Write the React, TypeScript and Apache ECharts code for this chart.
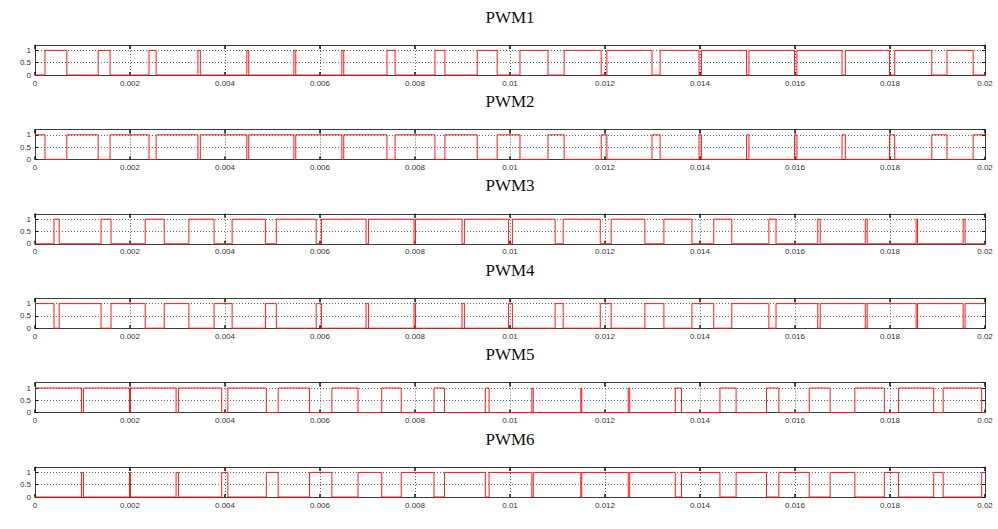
import React, { useEffect, useRef } from "react";
import * as echarts from "echarts";

// Titles of the six subplots
const titles = ["PWM1", "PWM2", "PWM3", "PWM4", "PWM5", "PWM6"];

// Switching instants (ms), with each signal's level at t = 0
const pwm1Start = 0;
const pwm1Toggles = [0.21, 0.67, 1.33, 1.58, 2.40, 2.55, 3.43, 3.48, 4.46, 4.50, 5.45, 5.49, 6.46, 6.50, 7.41, 7.58, 8.42, 8.63, 9.31, 9.73, 10.21, 10.80, 11.14, 11.92, 12.04, 12.99, 13.16, 13.98, 14.03, 14.98, 15.03, 15.99, 16.04, 16.99, 17.06, 17.99, 18.10, 18.88, 19.20, 19.75];
const pwm2Start = 1;
const pwm2Toggles = [0.21, 0.67, 1.33, 1.58, 2.40, 2.55, 3.43, 3.48, 4.46, 4.50, 5.45, 5.49, 6.46, 6.50, 7.41, 7.58, 8.42, 8.63, 9.31, 9.73, 10.21, 10.80, 11.14, 11.92, 12.04, 12.99, 13.16, 13.98, 14.03, 14.98, 15.03, 15.99, 16.04, 16.99, 17.06, 17.99, 18.10, 18.88, 19.20, 19.75];
const pwm3Start = 0;
const pwm3Toggles = [0.40, 0.51, 1.39, 1.60, 2.32, 2.72, 3.24, 3.77, 4.15, 4.85, 5.08, 5.92, 6.03, 6.97, 7.02, 7.98, 8.01, 8.99, 9.04, 9.97, 10.05, 10.95, 11.12, 11.90, 12.13, 12.84, 13.24, 13.83, 14.29, 14.67, 15.45, 15.60, 16.48, 16.53, 17.48, 17.52, 18.55, 18.58, 19.54, 19.58];
const pwm4Start = 1;
const pwm4Toggles = [0.40, 0.51, 1.39, 1.60, 2.32, 2.72, 3.24, 3.77, 4.15, 4.85, 5.08, 5.92, 6.03, 6.97, 7.02, 7.98, 8.01, 8.99, 9.04, 9.97, 10.05, 10.95, 11.12, 11.90, 12.13, 12.84, 13.24, 13.83, 14.29, 14.67, 15.45, 15.60, 16.48, 16.53, 17.48, 17.52, 18.55, 18.58, 19.54, 19.58];
const pwm5Start = 1;
const pwm5Toggles = [0.98, 1.02, 1.99, 2.01, 2.97, 3.02, 3.93, 4.06, 4.87, 5.12, 5.78, 6.25, 6.80, 7.30, 7.71, 8.40, 8.62, 9.48, 9.56, 10.46, 10.49, 11.49, 11.51, 12.49, 12.52, 13.48, 13.61, 14.42, 14.76, 15.40, 15.66, 16.30, 16.74, 17.26, 17.88, 18.18, 18.92, 19.12, 19.93];
const pwm6Start = 0;
const pwm6Toggles = [0.98, 1.02, 1.99, 2.01, 2.97, 3.02, 3.93, 4.06, 4.87, 5.12, 5.78, 6.25, 6.80, 7.30, 7.71, 8.40, 8.62, 9.48, 9.56, 10.46, 10.49, 11.49, 11.51, 12.49, 12.52, 13.48, 13.61, 14.42, 14.76, 15.40, 15.66, 16.30, 16.74, 17.26, 17.88, 18.18, 18.92, 19.12, 19.93];

const starts = [pwm1Start, pwm2Start, pwm3Start, pwm4Start, pwm5Start, pwm6Start];
const toggles = [pwm1Toggles, pwm2Toggles, pwm3Toggles, pwm4Toggles, pwm5Toggles, pwm6Toggles];

// Axis settings
const xMin = 0;
const xMax = 0.02;
const xStep = 0.002;
const yMin = 0;
const yMax = 1.22;
const yStep = 0.5;

function buildWave(start: number, tg: number[]): number[][] {
  const pts: number[][] = [[xMin, start]];
  let lvl = start;
  for (const t of tg) {
    const s = t / 1000;
    pts.push([s, lvl]);
    lvl = 1 - lvl;
    pts.push([s, lvl]);
  }
  pts.push([xMax, lvl]);
  return pts;
}

const fmt = (v: number) => (v === 0 ? "0" : String(parseFloat(v.toFixed(4))));

export default function App() {
  const ref = useRef<HTMLDivElement>(null);
  useEffect(() => {
    if (!ref.current) return;
    const chart = echarts.init(ref.current, undefined, { renderer: "svg" });
    const LEFT = 35;
    const WIDTH = 950;
    const TOP0 = 45;
    const STEP = 84.4;
    const H = 30;
    const axisColor = "#3c3c3c";
    const gridColor = "#666";

    const grid: any[] = [];
    const xAxis: any[] = [];
    const yAxis: any[] = [];
    const series: any[] = [];
    const graphic: any[] = [];

    titles.forEach((title, i) => {
      const top = TOP0 + i * STEP;
      grid.push({ left: LEFT, top, width: WIDTH, height: H, containLabel: false });
      // bottom x axis
      xAxis.push({
        type: "value",
        gridIndex: i,
        min: xMin,
        max: xMax,
        interval: xStep,
        position: "bottom",
        axisLine: { show: true, onZero: false, lineStyle: { color: axisColor, width: 1 } },
        axisTick: { show: true, inside: true, length: 3, lineStyle: { color: "#111", width: 1.5 } },
        axisLabel: {
          show: true,
          fontSize: 8,
          color: "#333",
          margin: 4,
          fontFamily: "Liberation Sans, Arial, sans-serif",
          formatter: fmt,
        },
        splitLine: { show: true, lineStyle: { color: gridColor, type: [1, 2], width: 1 } },
      });
      // top x axis (box + inner ticks)
      xAxis.push({
        type: "value",
        gridIndex: i,
        min: xMin,
        max: xMax,
        interval: xStep,
        position: "top",
        axisLine: { show: true, onZero: false, lineStyle: { color: axisColor, width: 1 } },
        axisTick: { show: true, inside: true, length: 4, lineStyle: { color: "#111", width: 1.5 } },
        axisLabel: { show: false },
        splitLine: { show: false },
      });
      yAxis.push({
        type: "value",
        gridIndex: i,
        min: yMin,
        max: yMax,
        interval: yStep,
        position: "left",
        axisLine: { show: true, onZero: false, lineStyle: { color: axisColor, width: 1 } },
        axisTick: { show: true, inside: true, length: 3, lineStyle: { color: "#111" } },
        axisLabel: {
          show: true,
          fontSize: 8,
          color: "#333",
          margin: 4,
          showMaxLabel: false,
          fontFamily: "Liberation Sans, Arial, sans-serif",
          formatter: fmt,
        },
        splitLine: { show: true, lineStyle: { color: gridColor, type: [1, 2], width: 1 } },
      });
      yAxis.push({
        type: "value",
        gridIndex: i,
        min: yMin,
        max: yMax,
        interval: yStep,
        position: "right",
        axisLine: { show: true, onZero: false, lineStyle: { color: axisColor, width: 1 } },
        axisTick: { show: true, inside: true, length: 3, lineStyle: { color: "#111" } },
        axisLabel: { show: false },
        splitLine: { show: false },
      });
      series.push({
        type: "line",
        name: title,
        xAxisIndex: i * 2,
        yAxisIndex: i * 2,
        data: buildWave(starts[i], toggles[i]),
        showSymbol: false,
        symbol: "none",
        clip: false,
        z: 5,
        lineStyle: { color: "#ff1a1a", width: 1 },
      });
      graphic.push({
        type: "text",
        x: LEFT + WIDTH / 2,
        y: top - 28,
        style: {
          text: title,
          fill: "#111",
          font: "17px 'Liberation Serif', 'Times New Roman', serif",
          textAlign: "center",
          textVerticalAlign: "middle",
        },
      });
    });

    chart.setOption({
      animation: false,
      backgroundColor: "#ffffff",
      grid,
      xAxis,
      yAxis,
      series,
      graphic,
    });
    return () => chart.dispose();
  }, []);
  return (
    <div
      ref={ref}
      style={{ position: "absolute", left: 0, top: 0, width: 998, height: 529 }}
    />
  );
}
